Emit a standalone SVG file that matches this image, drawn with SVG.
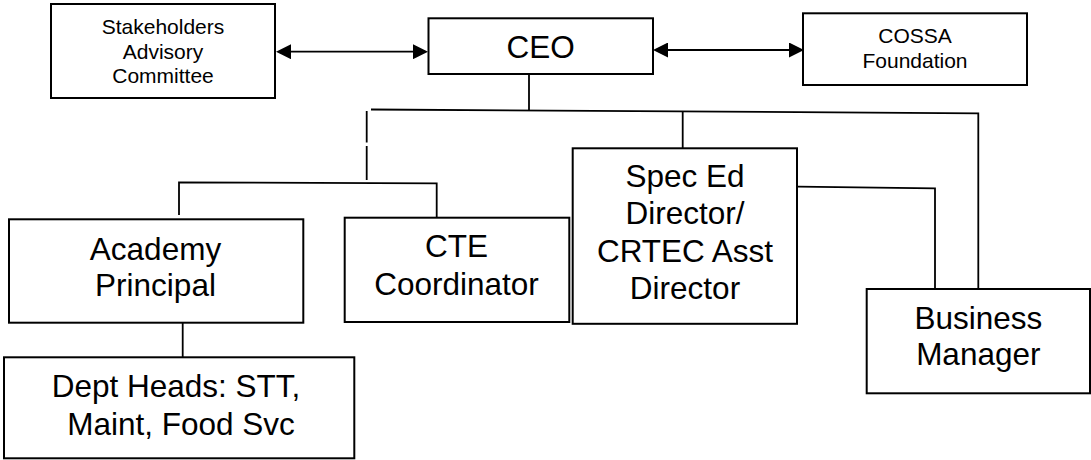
<svg xmlns="http://www.w3.org/2000/svg" width="1091" height="460" viewBox="0 0 1091 460">
<style>
.box{fill:#fff;stroke:#000;stroke-width:2}
.t{font-family:"Liberation Sans",Arial,sans-serif;fill:#000;text-anchor:middle}
.big{font-size:31.5px}
.sm{font-size:21px}
.c{fill:none;stroke:#000;stroke-width:1.8}
</style>
<defs>
<marker id="ah" markerUnits="userSpaceOnUse" markerWidth="15" markerHeight="15" viewBox="0 0 15 15" refX="12" refY="7.5" orient="auto-start-reverse">
<path d="M0,0 L15,7.5 L0,15 z" fill="#000"/>
</marker>
</defs>
<rect width="1091" height="460" fill="#fff"/>
<g id="connectors">
<line class="c" x1="279" y1="51.7" x2="425" y2="51.7" marker-start="url(#ah)" marker-end="url(#ah)"/>
<line class="c" x1="656" y1="50" x2="801" y2="50" marker-start="url(#ah)" marker-end="url(#ah)"/>
<line class="c" x1="529" y1="74" x2="529" y2="110"/>
<polyline class="c" points="371,109.5 978.3,113.3 978.3,289"/>
<line class="c" x1="682.7" y1="111.5" x2="682.7" y2="148"/>
<line class="c" x1="366.7" y1="111" x2="366.7" y2="142.5"/>
<line class="c" x1="366.7" y1="146" x2="366.7" y2="180"/>
<polyline class="c" points="179,215 179,182.3 436.7,183.3 436.7,218"/>
<line class="c" x1="182.7" y1="323" x2="182.7" y2="357.5"/>
<polyline class="c" points="798,186.7 935,188.3 935,289"/>
</g>
<g id="stakeholders">
<rect class="box" x="51" y="4" width="224" height="94"/>
<text class="t sm" x="163" y="34.3">Stakeholders</text>
<text class="t sm" x="163" y="59">Advisory</text>
<text class="t sm" x="163" y="83">Committee</text>
</g>
<g id="ceo">
<rect class="box" x="428.5" y="18.3" width="224.5" height="55.7"/>
<text class="t big" x="540.7" y="58.3">CEO</text>
</g>
<g id="cossa">
<rect class="box" x="803" y="13.3" width="224" height="71.7"/>
<text class="t sm" x="915" y="43.3">COSSA</text>
<text class="t sm" x="915" y="68.3">Foundation</text>
</g>
<g id="academy">
<rect class="box" x="9" y="219.3" width="294.3" height="103.4"/>
<text class="t big" x="155.5" y="260">Academy</text>
<text class="t big" x="155.5" y="296">Principal</text>
</g>
<g id="cte">
<rect class="box" x="344.7" y="217.7" width="224.6" height="104.3"/>
<text class="t big" x="456.5" y="257.3">CTE</text>
<text class="t big" x="456.5" y="295">Coordinator</text>
</g>
<g id="speced">
<rect class="box" x="572.7" y="148.3" width="224.3" height="175.5"/>
<text class="t big" x="685" y="187.3">Spec Ed</text>
<text class="t big" x="685" y="224">Director/</text>
<text class="t big" x="685" y="261.5">CRTEC Asst</text>
<text class="t big" x="685" y="298.7">Director</text>
</g>
<g id="business">
<rect class="box" x="866.7" y="289" width="223.3" height="104.3"/>
<text class="t big" x="978.3" y="329">Business</text>
<text class="t big" x="978.3" y="365">Manager</text>
</g>
<g id="depthead">
<rect class="box" x="4" y="357.3" width="350.3" height="101"/>
<text class="t big" x="176" y="396.5">Dept Heads: STT,</text>
<text class="t big" x="181" y="435">Maint, Food Svc</text>
</g>
</svg>
